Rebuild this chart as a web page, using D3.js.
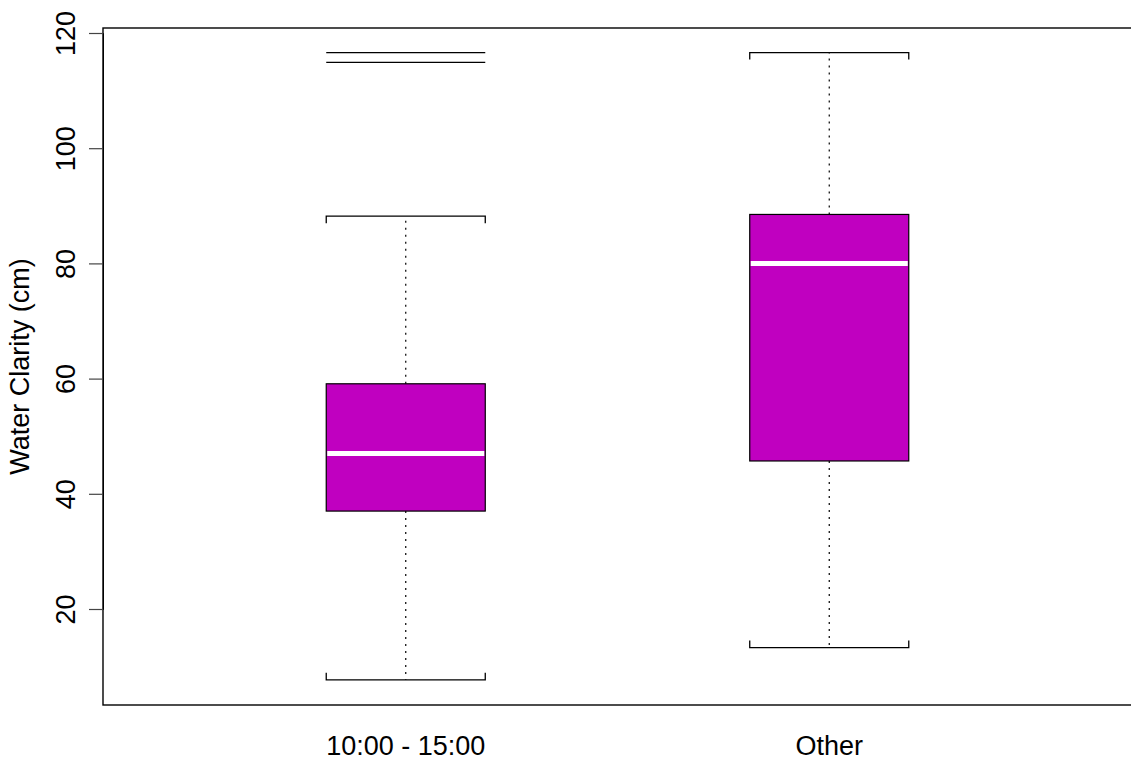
<!DOCTYPE html>
<html>
<head>
<meta charset="utf-8">
<script src="https://cdn.jsdelivr.net/npm/d3@7"></script>
<style>
  html, body { margin: 0; padding: 0; background: #fff; }
  svg { display: block; }
  text { font-family: "Liberation Sans", Arial, Helvetica, sans-serif; fill: #000; }
</style>
</head>
<body>
<svg id="chart" width="1131" height="770"></svg>
<script>
// Water clarity by time of sampling: five-number summaries per group
const categories   = ["10:00 - 15:00", "Other"];
const lowerWhisker = [7.7, 13.3];
const q1           = [37.0, 45.7];
const median       = [47.0, 80.0];
const q3           = [59.1, 88.5];
const upperWhisker = [88.2, 116.6];
const outliers     = [[114.9, 116.6], []];
const yTicks       = [20, 40, 60, 80, 100, 120];
const yTitle       = "Water Clarity (cm)";

const svg = d3.select("#chart");
const fontSize = "27px";

// plotting region
const frame = { left: 103, top: 28, right: 1135, bottom: 705 };

const y = d3.scaleLinear().domain([20, 120]).range([609, 33]);
const x = d3.scaleBand().domain(categories).range([194, 1041]).padding(0);
const boxW = x.bandwidth() * 0.3755;
const cx = c => x(c) + x.bandwidth() / 2;

const groups = categories.map((c, i) => ({
  cat: c, lo: lowerWhisker[i], q1: q1[i], med: median[i], q3: q3[i], hi: upperWhisker[i], out: outliers[i]
}));

// whiskers (dotted) from box edges to caps
const g = svg.append("g");
groups.forEach(d => {
  const xc = cx(d.cat), x0 = xc - boxW / 2, x1 = xc + boxW / 2;
  [[d.q3, d.hi], [d.q1, d.lo]].forEach(([a, b]) => {
    g.append("line")
      .attr("x1", xc).attr("x2", xc)
      .attr("y1", y(a)).attr("y2", y(b))
      .attr("stroke", "#000").attr("stroke-width", 1.2)
      .attr("stroke-dasharray", "2,5");
  });
  // caps with short end ticks pointing toward the box
  const tick = 7;
  const capHi = y(d.hi), capLo = y(d.lo);
  g.append("path")
    .attr("d", `M${x0},${capHi + tick}V${capHi}H${x1}V${capHi + tick}`)
    .attr("fill", "none").attr("stroke", "#000").attr("stroke-width", 1.3);
  g.append("path")
    .attr("d", `M${x0},${capLo - tick}V${capLo}H${x1}V${capLo - tick}`)
    .attr("fill", "none").attr("stroke", "#000").attr("stroke-width", 1.3);
  // box
  g.append("rect")
    .attr("x", x0).attr("y", y(d.q3))
    .attr("width", boxW).attr("height", y(d.q1) - y(d.q3))
    .attr("fill", "#C000C0").attr("stroke", "#000").attr("stroke-width", 1.2);
  // median
  g.append("line")
    .attr("x1", x0 + 1).attr("x2", x1 - 1)
    .attr("y1", y(d.med)).attr("y2", y(d.med))
    .attr("stroke", "#fff").attr("stroke-width", 5);
  // outliers drawn as horizontal bars
  d.out.forEach(v => {
    g.append("line")
      .attr("x1", x0).attr("x2", x1)
      .attr("y1", y(v)).attr("y2", y(v))
      .attr("stroke", "#000").attr("stroke-width", 1.4);
  });
});

// frame
svg.append("rect")
  .attr("x", frame.left).attr("y", frame.top)
  .attr("width", frame.right - frame.left).attr("height", frame.bottom - frame.top)
  .attr("fill", "none").attr("stroke", "#000").attr("stroke-width", 1.4);

// y axis
const yAxis = svg.append("g")
  .attr("transform", `translate(${frame.left},0)`)
  .call(d3.axisLeft(y).tickValues(yTicks).tickSize(14).tickFormat(d3.format("d")));
yAxis.select(".domain").attr("stroke", "#000").attr("stroke-width", 1);
yAxis.selectAll(".tick line").attr("stroke", "#444").attr("stroke-width", 1.2);
yAxis.selectAll(".tick text")
  .attr("x", 0).attr("dy", 0)
  .attr("transform", "translate(-35,0) rotate(-90)")
  .attr("text-anchor", "middle")
  .attr("dominant-baseline", "middle")
  .style("font-size", fontSize)
  .style("font-family", "'Liberation Sans', Arial, sans-serif")
  .attr("fill", "#000");

// x category labels
svg.append("g").selectAll("text")
  .data(categories).join("text")
  .attr("x", d => cx(d)).attr("y", 748)
  .attr("text-anchor", "middle")
  .attr("dominant-baseline", "middle")
  .style("font-size", fontSize)
  .text(d => d);

// y title
svg.append("text")
  .attr("transform", `translate(22,${(frame.top + frame.bottom) / 2}) rotate(-90)`)
  .attr("text-anchor", "middle")
  .attr("dominant-baseline", "middle")
  .style("font-size", fontSize)
  .text(yTitle);
</script>
</body>
</html>
